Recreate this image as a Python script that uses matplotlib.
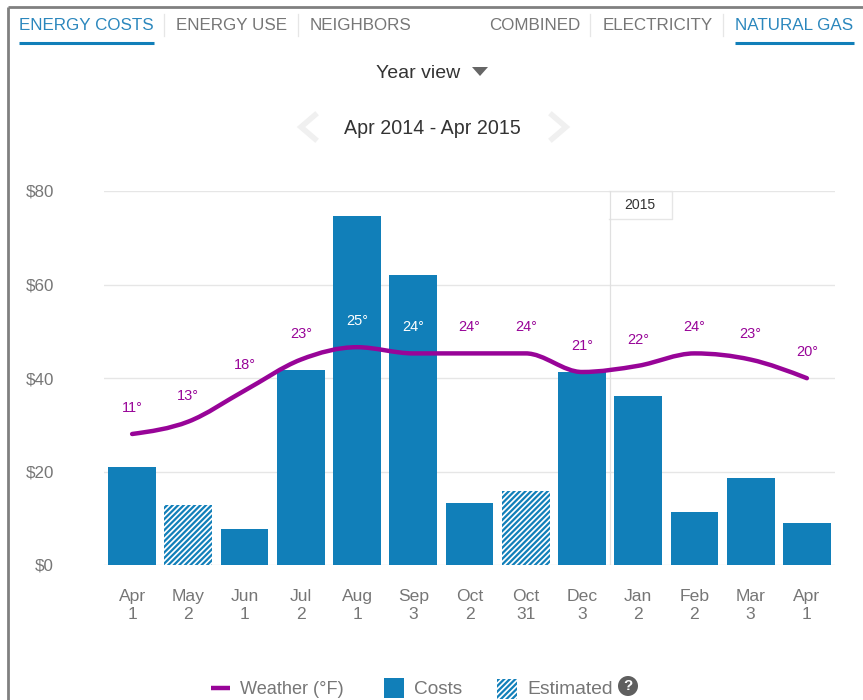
import numpy as np
import matplotlib
matplotlib.use("Agg")
import matplotlib.pyplot as plt
from matplotlib.path import Path
from matplotlib.patches import PathPatch, Rectangle, Polygon, Circle

plt.rcParams['font.family'] = ['Liberation Sans', 'DejaVu Sans']
plt.rcParams['hatch.linewidth'] = 1.6

months = ["Apr", "May", "Jun", "Jul", "Aug", "Sep", "Oct", "Oct", "Dec", "Jan", "Feb", "Mar", "Apr"]
days = ["1", "2", "1", "2", "1", "3", "2", "31", "3", "2", "2", "3", "1"]
costs = [21.0, 12.8, 7.7, 41.7, 74.7, 62.0, 13.2, 15.8, 41.3, 36.2, 11.3, 18.6, 9.0]
estimated = [False, True, False, False, False, False, False, True, False, False, False, False, False]
temps = [11, 13, 18, 23, 25, 24, 24, 24, 21, 22, 24, 23, 20]
white_labels = [4, 5]
yticks = [0, 20, 40, 60, 80]

BLUE = "#117fb9"
PURPLE = "#980498"
GREY = "#767676"
GRID = "#e6e6e6"
W, H = 863, 700


def px(size):
    return size * 0.72


def monotone_path(x, y):
    x, y = np.asarray(x, float), np.asarray(y, float)
    h = np.diff(x)
    s = np.diff(y) / h
    m = np.zeros_like(y)
    for i in range(1, len(y) - 1):
        if s[i - 1] * s[i] > 0:
            m[i] = (np.sign(s[i - 1]) + np.sign(s[i])) * min(
                abs(s[i - 1]), abs(s[i]), 0.25 * abs(s[i - 1] + s[i]))
    m[0] = (3 * s[0] - m[1]) / 2
    m[-1] = (3 * s[-1] - m[-2]) / 2
    verts = [(x[0], y[0])]
    codes = [Path.MOVETO]
    for i in range(len(h)):
        verts += [(x[i] + h[i] / 3, y[i] + m[i] * h[i] / 3),
                  (x[i + 1] - h[i] / 3, y[i + 1] - m[i + 1] * h[i] / 3),
                  (x[i + 1], y[i + 1])]
        codes += [Path.CURVE4] * 3
    return Path(verts, codes)


fig = plt.figure(figsize=(W / 100, H / 100), dpi=100, facecolor="white")

# pixel overlay for page furniture
ui = fig.add_axes([0, 0, 1, 1], zorder=0)
ui.set_xlim(0, W)
ui.set_ylim(H, 0)
ui.axis("off")

# chart axes
L, R, T, B = 104, 835, 191, 565
ax = fig.add_axes([L / W, 1 - B / H, (R - L) / W, (B - T) / H], zorder=1)
ax.patch.set_alpha(0)
x = np.arange(len(costs))
for xi, c, e in zip(x, costs, estimated):
    if e:
        ax.bar(xi, c, width=0.85, facecolor="white", edgecolor=BLUE, hatch="//////", linewidth=0, zorder=3)
    else:
        ax.bar(xi, c, width=0.85, color=BLUE, linewidth=0, zorder=3)
ax.set_xlim(-0.5, 12.5)
ax.set_ylim(0, 80)
ax.set_yticks(yticks)
ax.set_yticklabels([f"${v}" for v in yticks], fontsize=px(17), color=GREY, va="center_baseline")
ax.set_xticks(x)
ax.set_xticklabels([f"{m}\n{d}" for m, d in zip(months, days)], fontsize=px(17.5), color=GREY, linespacing=1.3)
ax.tick_params(length=0)
ax.tick_params(axis="y", pad=36)
ax.tick_params(axis="x", pad=17)
ax.yaxis.grid(True, color=GRID, linewidth=1)
ax.set_axisbelow(True)
for s in ax.spines.values():
    s.set_visible(False)
# year divider sits between the Dec and Jan bars
ax.axvline(8.49, color="#e0e0e0", linewidth=0.9, zorder=2)

# weather axis
ax2 = ax.twinx()
ax2.set_ylim(11 - (B - 434) / 6.2, 11 + (434 - T) / 6.2)
ax2.axis("off")
ax2.add_patch(PathPatch(monotone_path(x, temps), fill=False, edgecolor=PURPLE, linewidth=3.2,
                        capstyle="round", zorder=5))
for i, (xi, t) in enumerate(zip(x, temps)):
    ax2.annotate(f"{t}°", (xi, t), xytext=(0, 26 * 0.72), textcoords="offset points",
                 ha="center", va="center", fontsize=px(14.5),
                 color="white" if i in white_labels else PURPLE, zorder=6)

# frame
ui.plot([8, 8], [7, H], color="#808080", lw=2, solid_capstyle="butt")
ui.plot([8, W], [7, 7], color="#808080", lw=2, solid_capstyle="butt")

# tabs
for label, cx, col in [("ENERGY COSTS", 86.5, "#2b87bd"), ("ENERGY USE", 231.5, GREY), ("NEIGHBORS", 360, GREY),
                       ("COMBINED", 534.5, GREY), ("ELECTRICITY", 657.5, GREY), ("NATURAL GAS", 794.5, "#2b87bd")]:
    ui.text(cx, 25, label, ha="center", va="center", fontsize=px(17), color=col)
for sx in [164, 298, 590, 723]:
    ui.plot([sx, sx], [14, 36], color="#e6e6e6", lw=0.9)
for a, b in [(19, 154), (735, 854)]:
    ui.plot([a, b], [43, 43], color=BLUE, lw=2.2, solid_capstyle="butt")

ui.text(418, 73, "Year view", ha="center", va="center", fontsize=px(19.5), color="#333333")
ui.add_patch(Polygon([(472, 67), (488, 67), (480, 76)], closed=True, color="#666666", lw=0))
ui.text(432.5, 128.5, "Apr 2014 - Apr 2015", ha="center", va="center", fontsize=px(19.6), color="#333333")
ui.plot([315, 301, 315], [115, 127, 139], color="#f0f0f0", lw=4, solid_joinstyle="miter")
ui.plot([552, 566, 552], [115, 127, 139], color="#f0f0f0", lw=4, solid_joinstyle="miter")

# 2015 box
ui.plot([609, 672, 672, 609], [219, 219, 191, 191], color=GRID, lw=1)
ui.text(640, 205, "2015", ha="center", va="center", fontsize=px(14), color="#333333")

# legend
ui.plot([211, 230], [688, 688], color=PURPLE, lw=3.2, solid_capstyle="butt")
ui.text(240, 690, "Weather (°F)", ha="left", va="center", fontsize=px(18.2), color=GREY)
ui.add_patch(Rectangle((384, 678), 20, 20, facecolor=BLUE, lw=0))
ui.text(414, 690, "Costs", ha="left", va="center", fontsize=px(19), color=GREY)
ui.add_patch(Rectangle((497, 679), 20, 20, facecolor="white", edgecolor=BLUE, hatch="//////", lw=0))
ui.text(527, 690, "Estimated", ha="left", va="center", fontsize=px(19.3), color=GREY)
ui.add_patch(Circle((628, 686), 10, color="#5f5f5f", lw=0))
ui.text(628, 686, "?", ha="center", va="center", fontsize=px(15), color="white", fontweight="bold")

fig.savefig("out.png", dpi=100)
